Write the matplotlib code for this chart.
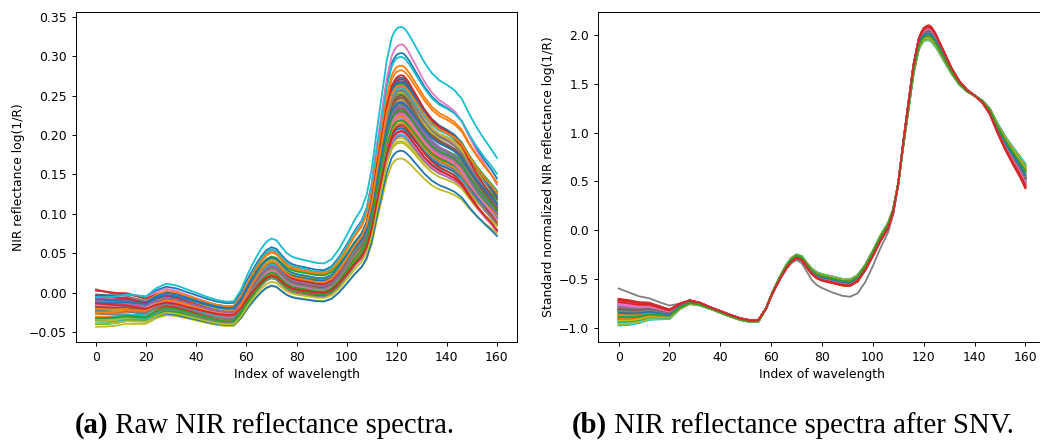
import numpy as np
import matplotlib
matplotlib.use("Agg")
import matplotlib.pyplot as plt

# ---------------- data ----------------
# wavelength indices at which the spectra were read
sample_index = [0, 4, 8, 12, 16, 20, 24, 28, 32, 36,
                40, 44, 48, 52, 55, 58, 60, 62, 64, 66,
                68, 70, 72, 74, 76, 78, 80, 84, 88, 91,
                94, 97, 100, 103, 106, 108, 110, 112, 114, 116,
                118, 119, 120, 121, 122, 123, 124, 125, 126, 128,
                131, 134, 137, 140, 143, 146, 149, 152, 155, 158,
                160]

# centre of the SNV spectra band (panel b)
snv_centre = [-0.84, -0.845, -0.845, -0.83, -0.845, -0.86, -0.78, -0.735, -0.755, -0.795,
              -0.835, -0.875, -0.91, -0.93, -0.925, -0.80, -0.67, -0.56, -0.46, -0.37,
              -0.30, -0.265, -0.285, -0.355, -0.42, -0.46, -0.48, -0.505, -0.53, -0.535,
              -0.49, -0.38, -0.236, -0.08, 0.05, 0.20, 0.48, 0.89, 1.27, 1.65,
              1.90, 1.96, 2.00, 2.015, 2.02, 2.005, 1.97, 1.93, 1.88, 1.78,
              1.63, 1.51, 1.43, 1.38, 1.32, 1.22, 1.05, 0.90, 0.77, 0.65,
              0.56]

# half width of the SNV band (signed: + means upper for the "red" type samples)
snv_spread = [0.14, 0.13, 0.11, 0.09, 0.07, 0.05, 0.03, 0.02, 0.015, 0.01,
              0.01, 0.01, 0.01, 0.01, 0.01, 0.0, -0.005, -0.01, -0.015, -0.02,
              -0.02, -0.02, -0.022, -0.025, -0.03, -0.033, -0.035, -0.035, -0.035, -0.035,
              -0.035, -0.03, -0.03, -0.03, -0.03, -0.02, 0.0, 0.02, 0.04, 0.05,
              0.06, 0.065, 0.07, 0.075, 0.08, 0.078, 0.075, 0.068, 0.06, 0.05,
              0.03, 0.02, 0.01, 0.0, -0.01, -0.03, -0.05, -0.07, -0.09, -0.11,
              -0.13]

# deviation of the single grey outlier spectrum from the band centre
outlier_deviation = [0.245, 0.21, 0.17, 0.135, 0.11, 0.09, 0.03, 0.0, 0.0, 0.0,
                     0.0, 0.0, 0.0, 0.0, 0.0, 0.0, -0.005, -0.01, -0.02, -0.025,
                     -0.035, -0.04, -0.05, -0.065, -0.09, -0.10, -0.11, -0.13, -0.14, -0.145,
                     -0.155, -0.15, -0.13, -0.10, -0.07, -0.04, -0.02, 0.0, 0.0, 0.0,
                     0.0, 0.0, 0.0, 0.0, 0.0, 0.0, 0.0, 0.0, 0.0, 0.0,
                     0.0, 0.0, 0.0, 0.0, 0.0, 0.0, 0.0, 0.0, 0.0, 0.0,
                     0.0]
outlier_sample = 7

# raw spectra (panel a): value at the main peak (index 122) and at the trough (index 55)
raw_peak = [0.304, 0.245, 0.232, 0.262, 0.214, 0.238, 0.315, 0.228, 0.170, 0.221,
            0.180, 0.288, 0.252, 0.205, 0.243, 0.226, 0.233, 0.248, 0.196, 0.299,
            0.266, 0.218, 0.209, 0.271, 0.256, 0.234, 0.222, 0.258, 0.192, 0.212,
            0.273, 0.282, 0.240, 0.228, 0.199, 0.250, 0.261, 0.236, 0.254, 0.200,
            0.208, 0.224, 0.264, 0.212, 0.230, 0.268, 0.203, 0.219, 0.245, 0.260,
            0.268, 0.215, 0.218, 0.276, 0.237, 0.247, 0.227, 0.256, 0.190, 0.337,
            0.241, 0.263, 0.231, 0.205]
raw_trough = [-0.013, -0.031, -0.021, -0.026, -0.028, -0.034, -0.017, -0.024, -0.042, -0.037,
              -0.041, -0.019, -0.017, -0.029, -0.035, -0.023, -0.031, -0.022, -0.036, -0.019,
              -0.029, -0.023, -0.036, -0.018, -0.026, -0.033, -0.027, -0.018, -0.032, -0.038,
              -0.026, -0.017, -0.024, -0.032, -0.028, -0.031, -0.021, -0.021, -0.032, -0.036,
              -0.026, -0.035, -0.024, -0.033, -0.020, -0.028, -0.030, -0.038, -0.022, -0.032,
              -0.019, -0.026, -0.040, -0.024, -0.024, -0.029, -0.027, -0.033, -0.040, -0.011,
              -0.020, -0.028, -0.036, -0.028]
# position of each sample inside the SNV band (-1 lower edge ... +1 upper edge at index 0)
band_position = [0.1, -0.3, -0.5, 0.9, 0.6, 0.2, 0.7, 0.0, -0.8, -0.9,
                 -0.1, -0.2, -0.6, 0.8, 0.5, 0.1, 0.6, 0.2, -0.7, -0.5,
                 0.0, -0.4, -0.4, 1.0, 0.4, 0.3, 0.8, 0.4, -0.9, -0.8,
                 0.2, -0.35, -0.55, 0.7, 0.55, 0.15, 0.65, 0.25, -0.75, -0.95,
                 -0.2, -0.25, -0.45, 0.85, 0.45, 0.05, 0.75, 0.35, -0.85, -0.7,
                 0.15, -0.15, -0.65, 0.95, 0.5, 0.25, 0.55, 0.1, -0.6, -0.3,
                 -0.05, -0.45, -0.35, 0.75]

x_ticks = [0, 20, 40, 60, 80, 100, 120, 140, 160]
y_ticks_a = [-0.05, 0.00, 0.05, 0.10, 0.15, 0.20, 0.25, 0.30, 0.35]
y_ticks_b = [-1.0, -0.5, 0.0, 0.5, 1.0, 1.5, 2.0]

# ---------------- figure ----------------
W, H = 1040, 441
fig = plt.figure(figsize=(W / 100, H / 100), dpi=100)
ax1 = fig.add_axes([76 / W, 99 / H, 441 / W, 330 / H])
ax2 = fig.add_axes([598.3 / W, 99 / H, 447.4 / W, 330 / H])

x = np.array(sample_index)
S = np.array(snv_centre)
V = np.array(snv_spread)
Wd = np.array(outlier_deviation)
i122 = sample_index.index(122)
i55 = sample_index.index(55)

lw = 1.3
for i in range(len(raw_peak)):
    snv = S + band_position[i] * V
    if i == outlier_sample:
        snv = S + Wd
    scale = (raw_peak[i] - raw_trough[i]) / (snv[i122] - snv[i55])
    offset = raw_peak[i] - scale * snv[i122]
    raw = offset + scale * snv
    ax1.plot(x, raw, lw=lw)
    ax2.plot(x, snv, lw=lw)

fs = 8.9
for ax in (ax1, ax2):
    ax.set_xlim(-8, 168)
    ax.set_xticks(x_ticks)
    ax.tick_params(labelsize=fs, length=3.1, width=0.7)
    ax.set_xlabel("Index of wavelength", fontsize=fs, labelpad=3)
    for sp in ax.spines.values():
        sp.set_linewidth(0.7)

ax1.set_ylim(-0.0627, 0.356)
ax1.set_yticks(y_ticks_a)
ax1.set_yticklabels([f"{v:.2f}".replace("-", "\u2212") for v in y_ticks_a])
ax1.set_ylabel("NIR reflectance log(1/R)", fontsize=fs, labelpad=3)

ax2.set_ylim(-1.143, 2.235)
ax2.set_yticks(y_ticks_b)
ax2.set_yticklabels([f"{v:.1f}".replace("-", "\u2212") for v in y_ticks_b])
ax2.set_ylabel("Standard normalized NIR reflectance log(1/R)", fontsize=fs, labelpad=3)

# captions
cap_fs = 20.7
base_y = 8 / H
serif = ["Liberation Serif", "DejaVu Serif"]
ta = fig.text(75 / W, base_y, "(a)", fontsize=cap_fs, fontweight="bold",
              family=serif, ha="left", va="baseline")
ax1.annotate(" Raw NIR reflectance spectra.", xy=(1, 0), xycoords=ta,
             fontsize=cap_fs, family=serif, ha="left", va="bottom",
             annotation_clip=False)
tb = fig.text(572 / W, base_y, "(b)", fontsize=cap_fs, fontweight="bold",
              family=serif, ha="left", va="baseline")
ax2.annotate(" NIR reflectance spectra after SNV.", xy=(1, 0), xycoords=tb,
             fontsize=cap_fs, family=serif, ha="left", va="bottom",
             annotation_clip=False)

fig.savefig("out.png", dpi=100)
